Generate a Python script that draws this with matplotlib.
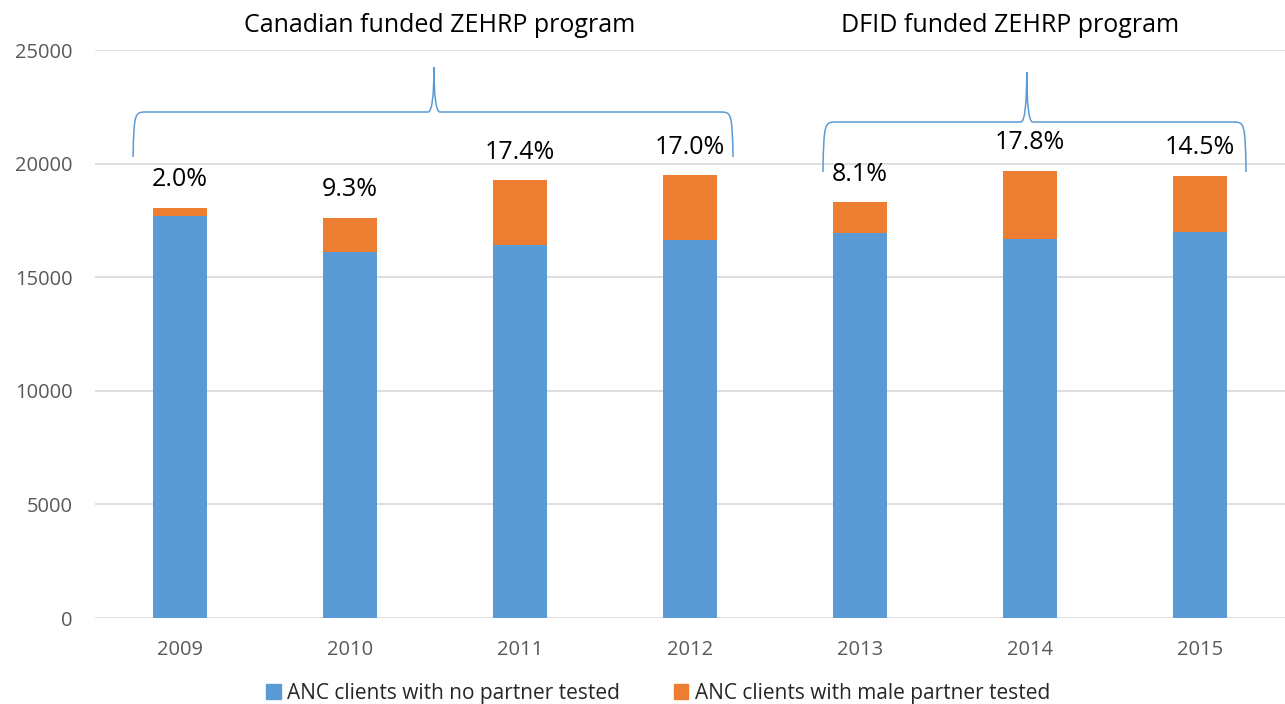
import matplotlib
matplotlib.use('Agg')
import matplotlib.pyplot as plt
from matplotlib.path import Path
from matplotlib.patches import PathPatch, Patch

years = ['2009', '2010', '2011', '2012', '2013', '2014', '2015']
no_partner = [17690, 16100, 16420, 16640, 16950, 16700, 17000]
male_partner = [370, 1520, 2860, 2850, 1350, 2990, 2470]
pct_labels = ['2.0%', '9.3%', '17.4%', '17.0%', '8.1%', '17.8%', '14.5%']
group_titles = ['Canadian funded ZEHRP program', 'DFID funded ZEHRP program']

BLUE, ORANGE, GRID, TICK = '#5B9BD5', '#ED7D31', '#D9D9D9', '#595959'
plt.rcParams['font.family'] = ['Open Sans', 'DejaVu Sans']

fig = plt.figure(figsize=(12.85, 7.04), dpi=100)
ax = fig.add_axes([95 / 1285, 1 - 618 / 704, 1 - 95 / 1285, (618 - 50) / 704])

x = list(range(len(years)))
ax.bar(x, no_partner, width=0.32, color=BLUE, label='ANC clients with no partner tested', zorder=3)
ax.bar(x, male_partner, width=0.32, bottom=no_partner, color=ORANGE,
       label='ANC clients with male partner tested', zorder=3)

for i, lab in enumerate(pct_labels):
    top = no_partner[i] + male_partner[i]
    ax.annotate(lab, (i, top), xytext=(0, 20), textcoords='offset points',
                ha='center', va='center', fontsize=18, color='black')

ax.set_xlim(-0.5, len(years) - 0.5)
ax.set_ylim(0, 25000)
ax.set_yticks(range(0, 25001, 5000))
ax.set_xticks(x)
ax.set_xticklabels(years)
ax.tick_params(axis='both', length=0, labelsize=14.5, colors=TICK)
ax.tick_params(axis='y', pad=16)
ax.tick_params(axis='x', pad=16)
ax.yaxis.grid(True, color=GRID, linewidth=1.2, zorder=0)
ax.set_axisbelow(True)
for s in ax.spines.values():
    s.set_visible(False)


def brace(x0, x1, xm, ytip, yh, ypeak, cx=0.08, mx=0.035):
    verts = [(x0, ytip), (x0 + 0.005, yh), (x0 + 0.01, yh), (x0 + cx, yh),
             (xm - mx, yh),
             (xm, yh), (xm, ypeak),
             (xm, yh), (xm + mx, yh),
             (x1 - cx, yh),
             (x1 - 0.01, yh), (x1 - 0.005, yh), (x1, ytip)]
    codes = [Path.MOVETO, Path.CURVE4, Path.CURVE4, Path.CURVE4,
             Path.LINETO,
             Path.CURVE3, Path.CURVE3,
             Path.CURVE3, Path.CURVE3,
             Path.LINETO,
             Path.CURVE4, Path.CURVE4, Path.CURVE4]
    ax.add_patch(PathPatch(Path(verts, codes), fill=False, edgecolor=BLUE,
                           linewidth=1.1, clip_on=False, zorder=4))


brace(-0.276, 3.253, 1.494, 20290, 22271, 24252)
brace(3.782, 6.271, 4.981, 19630, 21831, 24032)

fig.text(440 / 1285, 1 - 25 / 704, group_titles[0], ha='center', va='center', fontsize=18)
fig.text(1010 / 1285, 1 - 25 / 704, group_titles[1], ha='center', va='center', fontsize=18)

handles = [Patch(color=BLUE), Patch(color=ORANGE)]
fig.legend(handles, ['ANC clients with no partner tested', 'ANC clients with male partner tested'],
           loc='center', bbox_to_anchor=(658 / 1285, 1 - 693 / 704), ncol=2, frameon=False,
           fontsize=15, handlelength=0.7, handleheight=0.7, handletextpad=0.3,
           columnspacing=2.6, labelcolor='#262626')

fig.savefig('out.png', dpi=100)
